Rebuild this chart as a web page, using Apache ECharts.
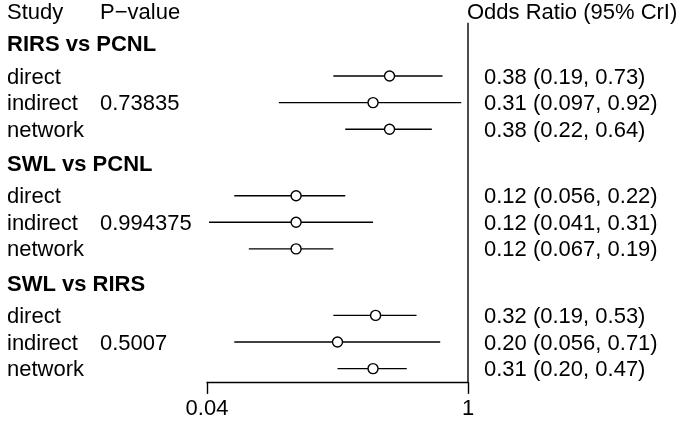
<!DOCTYPE html>
<html><head><meta charset="utf-8">
<script src="https://cdn.jsdelivr.net/npm/echarts@6/dist/echarts.min.js"></script>
<style>html,body{margin:0;padding:0;background:#fff}#c{width:680px;height:423px}</style>
</head><body><div id="c"></div>
<script>
const groups = ['RIRS vs PCNL', 'SWL vs PCNL', 'SWL vs RIRS'];
const studies = ['direct', 'indirect', 'network'];
const pValues = ['0.73835', '0.994375', '0.5007'];
const estimates = [[0.38, 0.31, 0.38], [0.12, 0.12, 0.12], [0.32, 0.20, 0.31]];
const lowers = [[0.19, 0.097, 0.22], [0.056, 0.041, 0.067], [0.19, 0.056, 0.20]];
const uppers = [[0.73, 0.92, 0.64], [0.22, 0.31, 0.19], [0.53, 0.71, 0.47]];
const xTicks = [0.04, 1];
const xTickLabels = ['0.04', '1'];

const FONT = '"Liberation Sans", Arial, sans-serif';
const FS = 22;
const GROUP_STEP = 4.5, HEADER_OFF = -1.2;

const studyData = [];
const headerData = [];
groups.forEach((g, gi) => {
  headerData.push([0.5, gi * GROUP_STEP + HEADER_OFF, gi]);
  studies.forEach((s, si) => {
    studyData.push([lowers[gi][si], uppers[gi][si], estimates[gi][si], gi * GROUP_STEP + si, gi, si]);
  });
});
function fmt(v) { return Number(v).toPrecision(2); }
function txt(x, y, text, bold) {
  return { type: 'text', style: { x: x, y: y, text: text, fill: '#000', font: (bold ? 'bold ' : '') + FS + 'px ' + FONT, textAlign: 'left', textVerticalAlign: 'middle' } };
}
const chart = echarts.init(document.getElementById('c'));
chart.setOption({
  animation: false,
  backgroundColor: '#fff',
  grid: { left: 207, right: 212, top: 9.5, height: 372.4 },
  xAxis: {
    type: 'log', logBase: 10, min: 0.04, max: 1, position: 'bottom',
    axisLine: { show: true, onZero: false, lineStyle: { color: '#000', width: 1.4 } },
    axisTick: { show: true, length: 12, inside: false, customValues: xTicks, lineStyle: { color: '#000', width: 1.4 } },
    axisLabel: { customValues: xTicks, color: '#000', fontSize: FS, fontFamily: FONT, margin: 16,
      formatter: v => { let b = 0; xTicks.forEach((t, i) => { if (Math.abs(Math.log(t) - Math.log(v)) < Math.abs(Math.log(xTicks[b]) - Math.log(v))) b = i; }); return xTickLabels[b]; } },
    splitLine: { show: false }, minorTick: { show: false }
  },
  yAxis: { type: 'value', inverse: true, min: -2.5, max: 11.5, show: false },
  series: [
    {
      type: 'custom', data: [[1, -2]], encode: { x: 0, y: 1 }, silent: true,
      renderItem: (params, api) => {
        const top = api.coord([1, api.value(1)]);
        const bot = api.coord([1, 11.5]);
        return { type: 'group', children: [
          { type: 'line', shape: { x1: top[0], y1: top[1], x2: bot[0], y2: bot[1] }, style: { stroke: '#000', lineWidth: 1.4 } },
          txt(7, 13, 'Study'), txt(100, 13, 'P\u2212value'), txt(467, 13, 'Odds Ratio (95% CrI)')
        ] };
      }
    },
    {
      type: 'custom', data: headerData, encode: { x: 0, y: 1 }, silent: true,
      renderItem: (params, api) => {
        const p = api.coord([1, api.value(1)]);
        return txt(7, p[1] + 1, groups[api.value(2)], true);
      }
    },
    {
      type: 'custom', data: studyData, encode: { x: [0, 1, 2], y: 3 }, silent: true,
      renderItem: (params, api) => {
        const lo = api.value(0), hi = api.value(1), est = api.value(2), y = api.value(3);
        const gi = api.value(4), si = api.value(5);
        const a = api.coord([lo, y]), b = api.coord([hi, y]), c = api.coord([est, y]);
        const ch = [
          { type: 'line', shape: { x1: a[0], y1: a[1], x2: b[0], y2: b[1] }, style: { stroke: '#000', lineWidth: 1.4 } },
          { type: 'circle', shape: { cx: c[0], cy: c[1], r: 5 }, style: { fill: '#fff', stroke: '#000', lineWidth: 1.4 } },
          txt(7, c[1] + 1.5, studies[si]),
          txt(484, c[1] + 1.5, fmt(est) + ' (' + fmt(lo) + ', ' + fmt(hi) + ')')
        ];
        if (si === 1) ch.push(txt(100, c[1] + 1.5, pValues[gi]));
        return { type: 'group', children: ch };
      }
    }
  ]
});
</script></body></html>
